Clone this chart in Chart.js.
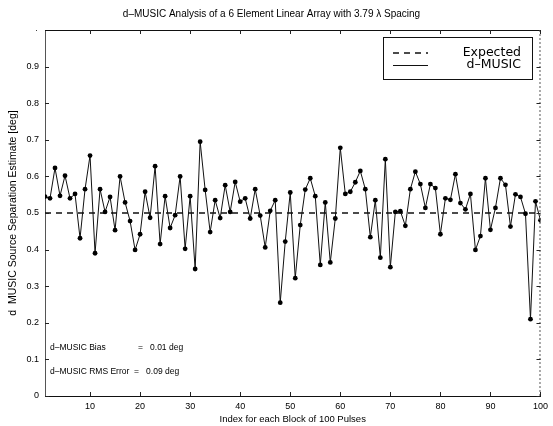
<!DOCTYPE html>
<html>
<head>
<meta charset="utf-8">
<script src="https://cdn.jsdelivr.net/npm/chart.js@4"></script>
<style>
  html, body { margin: 0; padding: 0; background: #fff; }
  #wrap { width: 553px; height: 426px; }
</style>
</head>
<body>
<div id="wrap"><canvas id="musicChart" width="553" height="426"></canvas></div>
<script>
// block index 1..100
const blockIndex = Array.from({ length: 100 }, (_, i) => i + 1);

// d-MUSIC estimate for each block [deg]
const separationEstimate = [
  0.545, 0.540, 0.623, 0.547, 0.602, 0.540, 0.552, 0.431, 0.565, 0.657,
  0.390, 0.565, 0.503, 0.544, 0.453, 0.600, 0.529, 0.478, 0.399, 0.442,
  0.558, 0.487, 0.628, 0.415, 0.546, 0.459, 0.494, 0.600, 0.402, 0.546,
  0.347, 0.695, 0.563, 0.448, 0.535, 0.486, 0.576, 0.503, 0.585, 0.531,
  0.540, 0.485, 0.565, 0.493, 0.406, 0.506, 0.535, 0.255, 0.422, 0.556,
  0.322, 0.467, 0.564, 0.595, 0.546, 0.358, 0.529, 0.365, 0.485, 0.678,
  0.552, 0.558, 0.584, 0.615, 0.565, 0.434, 0.535, 0.378, 0.647, 0.352,
  0.503, 0.505, 0.465, 0.565, 0.613, 0.579, 0.514, 0.579, 0.568, 0.442,
  0.540, 0.536, 0.606, 0.527, 0.510, 0.552, 0.399, 0.437, 0.595, 0.454,
  0.514, 0.595, 0.577, 0.463, 0.551, 0.544, 0.498, 0.210, 0.532, 0.480
];

const expectedSeparation = 0.5;
const xRange = [1, 100];
const yRange = [0, 1];
const xTickValues = [10, 20, 30, 40, 50, 60, 70, 80, 90, 100];
const yTickValues = [0, 0.1, 0.2, 0.3, 0.4, 0.5, 0.6, 0.7, 0.8, 0.9];

const FONT = "'Liberation Sans', Arial, sans-serif";
const WIDE = "'DejaVu Sans', sans-serif";

const musicPoints = blockIndex.map((b, i) => ({ x: b, y: separationEstimate[i] }));
const expectedPoints = xRange.map(v => ({ x: v, y: expectedSeparation }));

// box, inward ticks, legend and the two notes
const frameAndNotes = {
  id: 'frameAndNotes',
  afterDraw(chart) {
    const { ctx, chartArea: a, scales: { x, y } } = chart;
    ctx.save();
    ctx.strokeStyle = '#111';
    ctx.lineWidth = 1;
    ctx.beginPath();
    ctx.moveTo(a.left, a.top + 0.5);
    ctx.lineTo(a.right, a.top + 0.5);
    ctx.stroke();
    ctx.setLineDash([2, 2]);
    ctx.strokeStyle = '#555';
    ctx.beginPath();
    ctx.moveTo(a.right - 0.5, a.top);
    ctx.lineTo(a.right - 0.5, a.bottom);
    ctx.stroke();
    ctx.setLineDash([]);

    ctx.strokeStyle = '#222';
    xTickValues.forEach(v => {
      const px = Math.round(x.getPixelForValue(v)) + 0.5;
      ctx.beginPath();
      ctx.moveTo(px, a.bottom); ctx.lineTo(px, a.bottom - 4);
      ctx.moveTo(px, a.top); ctx.lineTo(px, a.top + 4);
      ctx.stroke();
    });
    yTickValues.forEach(v => {
      const py = Math.round(y.getPixelForValue(v)) + 0.5;
      ctx.beginPath();
      ctx.moveTo(a.left, py); ctx.lineTo(a.left + 4, py);
      ctx.moveTo(a.right, py); ctx.lineTo(a.right - 4, py);
      ctx.stroke();
    });
    ctx.fillStyle = '#000';
    ctx.font = '8px ' + FONT;
    ctx.textAlign = 'right';
    ctx.textBaseline = 'middle';
    ctx.fillText('\u00b7', a.left - 7, a.top + 1);

    // legend
    const lx = 383, ly = 37, lw = 149, lh = 42;
    ctx.fillStyle = '#fff';
    ctx.fillRect(lx, ly, lw, lh);
    ctx.strokeStyle = '#111';
    ctx.lineWidth = 1;
    ctx.strokeRect(lx + 0.5, ly + 0.5, lw, lh);
    ctx.lineWidth = 1.3;
    ctx.setLineDash([6, 5]);
    ctx.beginPath();
    ctx.moveTo(393, ly + 16); ctx.lineTo(428, ly + 16);
    ctx.stroke();
    ctx.setLineDash([]);
    ctx.lineWidth = 1;
    ctx.beginPath();
    ctx.moveTo(393, ly + 28.5); ctx.lineTo(428, ly + 28.5);
    ctx.stroke();
    ctx.fillStyle = '#000';
    ctx.font = '12.5px ' + WIDE;
    ctx.textAlign = 'right';
    ctx.textBaseline = 'middle';
    ctx.fillText('Expected', lx + lw - 11, ly + 16);
    ctx.fillText('d\u2013MUSIC', lx + lw - 11, ly + 28);

    // notes
    ctx.font = '8.5px ' + FONT;
    ctx.textAlign = 'left';
    ctx.fillText('d\u2013MUSIC Bias', 50, 348);
    ctx.fillText('=   0.01 deg', 138, 348);
    ctx.fillText('d\u2013MUSIC RMS Error  =   0.09 deg', 50, 372);
    ctx.restore();
  }
};

new Chart(document.getElementById('musicChart').getContext('2d'), {
  type: 'line',
  data: {
    datasets: [
      {
        label: 'Expected',
        data: expectedPoints,
        borderColor: '#111',
        borderWidth: 1.3,
        borderDash: [6, 5],
        pointRadius: 0,
        order: 2
      },
      {
        label: 'd\u2013MUSIC',
        data: musicPoints,
        borderColor: '#111',
        backgroundColor: '#000',
        borderWidth: 1,
        pointRadius: 2.4,
        pointBorderWidth: 0,
        pointBackgroundColor: '#000',
        tension: 0,
        order: 1
      }
    ]
  },
  options: {
    responsive: false,
    animation: false,
    layout: { padding: { top: 0, right: 10, left: 0, bottom: 0 } },
    plugins: {
      legend: { display: false },
      tooltip: { enabled: false },
      title: {
        display: true,
        text: 'd\u2013MUSIC Analysis of a 6 Element Linear Array with 3.79 \u03bb Spacing',
        color: '#000',
        font: { family: FONT, size: 10, weight: 'normal' },
        padding: { top: 8, bottom: 10 }
      }
    },
    scales: {
      x: {
        type: 'linear',
        min: xRange[0],
        max: xRange[1],
        afterFit: s => { s.height = 30; },
        afterBuildTicks: s => { s.ticks = xTickValues.map(v => ({ value: v })); },
        grid: { display: false, drawTicks: false },
        border: { display: true, color: '#111', width: 1 },
        ticks: {
          color: '#000',
          padding: 5,
          maxRotation: 0,
          font: { family: FONT, size: 9 }
        },
        title: {
          display: true,
          text: 'Index for each Block of 100 Pulses',
          color: '#000',
          font: { family: FONT, size: 9.5 },
          padding: { top: 0, bottom: 1 }
        }
      },
      y: {
        min: yRange[0],
        max: yRange[1],
        afterFit: s => { s.width = 45; },
        afterBuildTicks: s => { s.ticks = yTickValues.map(v => ({ value: v })); },
        grid: { display: false, drawTicks: false },
        border: { display: true, color: '#555', width: 1, dash: [2, 2] },
        ticks: {
          color: '#000',
          padding: 6,
          font: { family: FONT, size: 9 },
          callback: v => (v === 0 ? '0' : v.toFixed(1))
        },
        title: {
          display: true,
          text: 'd  MUSIC Source Separation Estimate [deg]',
          color: '#000',
          font: { family: FONT, size: 10.5 },
          padding: { top: 7, bottom: 0 }
        }
      }
    }
  },
  plugins: [frameAndNotes]
});
</script>
</body>
</html>
